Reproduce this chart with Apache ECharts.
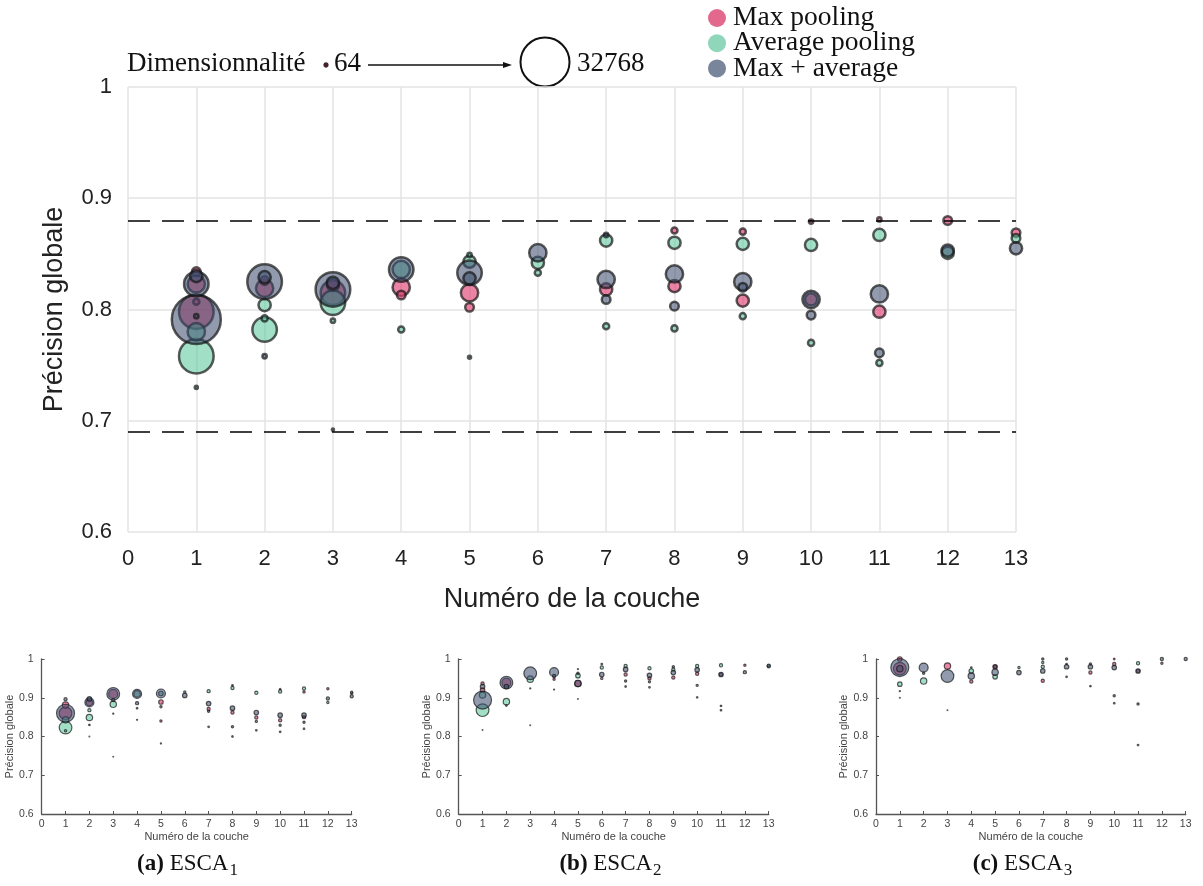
<!DOCTYPE html>
<html><head><meta charset="utf-8">
<script src="https://cdn.jsdelivr.net/npm/echarts@6/dist/echarts.min.js"></script>
<style>html,body{margin:0;padding:0;background:#fff}#c{width:1203px;height:886px}</style>
</head><body><div id="c"></div>
<script>
// ---------- data ----------
// each point: [layer number, global accuracy, dimensionality]
const layerTicks = [0,1,2,3,4,5,6,7,8,9,10,11,12,13];
const yTicks = [0.6,0.7,0.8,0.9,1];
const refLines = [0.88, 0.692];
const dimRange = [64, 32768];
const seriesNames = ['Max pooling','Average pooling','Max + average'];
const captions = [['a','1'],['b','2'],['c','3']];

const mainMax = [[1,0.798,16384],[1,0.823,4096],[1,0.834,1024],[1,0.807,512],[2,0.819,4096],[2,0.826,1024],
 [3,0.815,8192],[3,0.822,2048],[4,0.820,4096],[4,0.813,1024],[5,0.815,4096],[5,0.802,1024],
 [7,0.818,2048],[8,0.871,512],[8,0.821,2048],[9,0.870,512],[9,0.808,2048],[10,0.879,256],[10,0.809,2048],
 [11,0.881,256],[11,0.798,2048],[12,0.880,1024],[13,0.869,1024]];
const mainAvg = [[1,0.758,16384],[1,0.780,4096],[1,0.730,128],[2,0.782,8192],[2,0.804,2048],[2,0.792,512],
 [3,0.806,8192],[3,0.790,256],[3,0.692,64],[4,0.836,4096],[4,0.782,512],[5,0.843,2048],[5,0.849,256],[5,0.757,128],
 [6,0.842,2048],[6,0.833,512],[7,0.862,2048],[7,0.785,512],[8,0.860,2048],[8,0.783,512],[9,0.859,2048],[9,0.794,512],
 [10,0.858,2048],[10,0.770,512],[11,0.867,2048],[11,0.752,512],[12,0.851,2048],[13,0.864,1024]];
const mainBoth = [[1,0.791,32768],[1,0.823,8192],[1,0.830,2048],[1,0.794,256],[2,0.825,16384],[2,0.829,2048],[2,0.758,256],
 [3,0.818,16384],[3,0.824,2048],[4,0.836,8192],[5,0.833,8192],[5,0.828,2048],[6,0.851,4096],
 [7,0.827,4096],[7,0.809,1024],[7,0.867,256],[8,0.832,4096],[8,0.803,1024],[9,0.825,4096],[9,0.820,1024],
 [10,0.809,4096],[10,0.795,1024],[11,0.814,4096],[11,0.761,1024],[12,0.853,2048],[13,0.855,2048]];

const aMax = [[1,0.860,16384],[1,0.881,4096],[2,0.888,4096],[3,0.910,8192],[5,0.889,2048],[5,0.840,512],[7,0.871,1024],
 [8,0.932,256],[8,0.862,1024],[9,0.849,1024],[10,0.922,256],[10,0.842,1024],[11,0.915,512],[11,0.850,1024],[12,0.923,512],[13,0.912,512]];
const aAvg = [[1,0.823,16384],[1,0.843,4096],[1,0.815,512],[2,0.849,4096],[2,0.868,1024],[2,0.800,64],[3,0.883,4096],[3,0.748,64],
 [4,0.910,4096],[4,0.843,128],[5,0.911,2048],[5,0.782,128],[6,0.915,512],[7,0.917,1024],[7,0.825,256],[8,0.925,1024],[8,0.800,256],
 [9,0.913,1024],[9,0.816,256],[10,0.916,1024],[10,0.812,256],[11,0.924,1024],[11,0.820,256],[12,0.888,512],[13,0.914,512]];
const aBoth = [[1,0.860,32768],[1,0.896,1024],[2,0.888,8192],[2,0.897,2048],[2,0.830,256],[3,0.910,16384],[3,0.894,1024],[3,0.859,128],
 [4,0.910,8192],[4,0.886,1024],[4,0.873,256],[5,0.911,8192],[5,0.877,512],[6,0.906,2048],[7,0.885,2048],[7,0.865,512],
 [8,0.873,2048],[8,0.825,512],[9,0.862,2048],[9,0.839,512],[10,0.855,2048],[10,0.829,512],[11,0.855,2048],[11,0.837,512],[12,0.898,1024],[13,0.904,1024]];

const bMax = [[1,0.937,1024],[1,0.920,2048],[2,0.939,8192],[4,0.948,512],[5,0.937,4096],[6,0.987,256],[6,0.950,512],[7,0.960,1024],
 [8,0.950,1024],[9,0.952,1024],[10,0.962,1024],[11,0.960,1024],[12,0.984,512]];
const bAvg = [[1,0.868,16384],[1,0.907,4096],[2,0.890,4096],[2,0.880,256],[3,0.948,4096],[3,0.829,64],[4,0.921,128],[5,0.957,2048],
 [5,0.974,128],[5,0.897,64],[6,0.978,1024],[7,0.982,1024],[7,0.929,256],[8,0.976,1024],[8,0.927,256],[9,0.973,1024],
 [10,0.982,1024],[10,0.901,256],[11,0.984,1024],[11,0.868,256],[13,0.981,1024]];
const bBoth = [[1,0.894,32768],[1,0.929,2048],[1,0.817,64],[2,0.939,16384],[2,0.929,2048],[3,0.963,16384],[3,0.924,128],
 [4,0.966,8192],[4,0.956,1024],[5,0.937,4096],[5,0.963,512],[6,0.960,2048],[7,0.973,2048],[7,0.943,512],[8,0.958,2048],[8,0.941,512],
 [9,0.965,2048],[9,0.980,512],[10,0.972,2048],[10,0.932,512],[11,0.960,2048],[11,0.879,256],[12,0.966,1024],[13,0.983,1024]];

const cMax = [[1,0.975,16384],[1,1.000,2048],[3,0.982,4096],[4,0.942,1024],[5,0.980,2048],[7,0.944,1024],[8,0.987,256],
 [9,0.965,1024],[10,1.000,256],[10,0.987,1024],[11,0.969,1024],[12,0.989,512]];
const cAvg = [[1,0.935,2048],[1,0.917,128],[1,0.900,64],[2,0.943,4096],[4,0.969,2048],[4,0.978,256],[5,0.954,2048],[6,0.978,512],
 [7,0.980,1024],[7,0.991,512],[8,0.954,256],[9,0.930,256],[10,0.886,256],[11,0.989,1024],[11,0.778,256]];
const cBoth = [[1,0.978,32768],[1,0.975,4096],[2,0.978,8192],[2,0.963,512],[3,0.956,16384],[3,0.868,64],[4,0.956,4096],
 [5,0.966,4096],[5,0.980,1024],[6,0.965,2048],[7,0.969,2048],[7,1.000,512],[8,1.000,512],[8,0.980,2048],[9,0.980,2048],[9,0.987,512],
 [10,0.978,2048],[10,0.905,512],[11,0.969,2048],[11,0.884,512],[12,1.000,1024],[13,1.000,1024]];

// ---------- styling ----------
const FILL = ['rgba(224,62,112,0.8)','rgba(90,198,155,0.7)','rgba(58,76,108,0.7)'];
const LEG = ['#e2688d','#8fd6bb','#78859b'];
const K_MAIN = 49/Math.sqrt(dimRange[1]);
const K_SMALL = 18/Math.sqrt(dimRange[1]);
const SANS = '"Liberation Sans", Arial, sans-serif';
const SERIF = '"Liberation Serif", "DejaVu Serif", serif';

const grids = [
  {left:128, top:87, width:888, height:445},
  {left:41.7, top:659, width:310, height:155},
  {left:458.7, top:659, width:310, height:155},
  {left:876, top:659, width:309.7, height:155}
];
const dataSets = [[mainMax,mainAvg,mainBoth],[aMax,aAvg,aBoth],[bMax,bAvg,bBoth],[cMax,cAvg,cBoth]];
const fmtY = v => (Math.abs(v-1)<1e-9 ? '1' : v.toFixed(1));

const xAxes = [], yAxes = [], series = [];
grids.forEach((g,i)=>{
  const main = i===0;
  xAxes.push({type:'value', gridIndex:i, min:layerTicks[0], max:layerTicks[layerTicks.length-1], interval:1,
    name:'Numéro de la couche', nameLocation:'middle', nameGap: main?54:17,
    nameTextStyle:{fontFamily:SANS, fontSize: main?27:11, color: main?'#222':'#444'},
    axisLine:{show:!main, lineStyle:{color:'#555', width:1.3}},
    axisTick:{show:!main, inside:true, length:3, lineStyle:{color:'#555'}},
    axisLabel:{fontFamily:SANS, fontSize: main?22:10.5, color: main?'#222':'#444', margin: main?16:5},
    splitLine:{show:main, lineStyle:{color:'#e3e3e3', width:1.5}}
  });
  yAxes.push({type:'value', gridIndex:i, min:yTicks[0], max:yTicks[yTicks.length-1], interval:0.1,
    name:'Précision globale', nameLocation:'middle', nameGap: main?60:21, nameRotate:90,
    nameTextStyle:{fontFamily:SANS, fontSize: main?27:11, color: main?'#222':'#444'},
    axisLine:{show:!main, lineStyle:{color:'#555', width:1.3}},
    axisTick:{show:!main, inside:true, length:3, lineStyle:{color:'#555'}},
    axisLabel:{fontFamily:SANS, fontSize: main?22:10.5, color: main?'#222':'#444', margin: main?16:8, formatter:fmtY},
    splitLine:{show:main, lineStyle:{color:'#e3e3e3', width:1.5}}
  });
  const k = main?K_MAIN:K_SMALL;
  dataSets[i].forEach((d,j)=>{
    const s = {type:'scatter', name:seriesNames[j], xAxisIndex:i, yAxisIndex:i,
      data: d.slice().sort((a,b)=>b[2]-a[2]),
      symbolSize: v => k*Math.sqrt(v[2]),
      itemStyle:{color:FILL[j], borderColor:'rgba(22,22,22,0.88)', borderWidth: main?2.5:1.2},
      z: 2+j, emphasis:{disabled:true}, silent:true};
    if (main && j===0) {
      s.markLine = {silent:true, symbol:'none', label:{show:false},
        lineStyle:{color:'#000', type:[22,12], width:1.6},
        data: refLines.map(v=>({yAxis:v}))};
    }
    series.push(s);
  });
});

// ---------- graphics: size legend + captions ----------
const cv = document.createElement('canvas').getContext('2d');
function tw(font, t){ cv.font = font; return cv.measureText(t).width; }
function txt(x,y,text,font,extra){ return Object.assign({type:'text', x, y, silent:true,
  style:{text, font, fill:'#111', align:'left', verticalAlign:'middle', textAlign:'left', textVerticalAlign:'middle'}}, extra||{}); }

const gfx = [];
const LF = '27px ' + SERIF;
gfx.push(txt(127,64,'Dimensionnalité',LF));
const r64 = K_MAIN*Math.sqrt(dimRange[0])/2;
const rMax = K_MAIN*Math.sqrt(dimRange[1])/2;
gfx.push({type:'circle', silent:true, shape:{cx:326, cy:65, r:r64+1.3}, style:{fill:'#4a1f30', stroke:'#222', lineWidth:0.5}});
gfx.push(txt(334,64,String(dimRange[0]),LF));
gfx.push({type:'line', silent:true, shape:{x1:368,y1:65,x2:508,y2:65}, style:{stroke:'#111', lineWidth:1.6}});
gfx.push({type:'polygon', silent:true, shape:{points:[[503,62],[512,65],[503,68]]}, style:{fill:'#111'}});
gfx.push({type:'circle', silent:true, shape:{cx:545, cy:62, r:rMax}, style:{fill:'#fff', stroke:'#111', lineWidth:2}});
gfx.push(txt(577,64,String(dimRange[1]),LF));

const capCenters = [187, 610, 1022];
captions.forEach((c,i)=>{
  const f1 = 'bold 23px ' + SERIF, f2 = '23px ' + SERIF, f3 = '17px ' + SERIF;
  const t1 = '('+c[0]+')', t2 = ' ESCA', t3 = c[1];
  const w1 = tw(f1,t1), w2 = tw(f2,t2), w3 = tw(f3,t3);
  const x0 = capCenters[i] - (w1+w2+w3)/2, y = 864;
  gfx.push(txt(x0,y,t1,f1));
  gfx.push(txt(x0+w1,y,t2,f2));
  gfx.push(txt(x0+w1+w2+1,y+7,t3,f3));
});

const chart = echarts.init(document.getElementById('c'));
chart.setOption({
  animation:false,
  backgroundColor:'#fff',
  grid: grids,
  xAxis: xAxes, yAxis: yAxes,
  legend:{orient:'vertical', left:703, top:-1, itemWidth:18, itemHeight:18, itemGap:-2.8, icon:'circle',
    selectedMode:false,
    textStyle:{fontFamily:SERIF, fontSize:27.5, color:'#111', lineHeight:25.5, padding:[0,0,0,2]},
    data: seriesNames.map((n,j)=>({name:n, itemStyle:{color:LEG[j], borderWidth:0, opacity:1}}))},
  series: series,
  graphic: gfx
});
</script></body></html>
